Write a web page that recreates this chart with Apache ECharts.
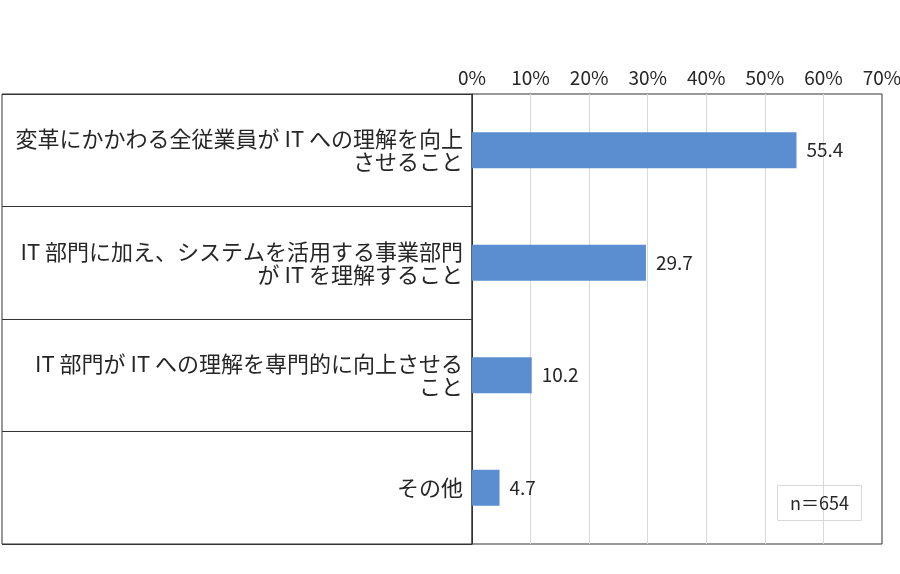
<!DOCTYPE html>
<html><head><meta charset="utf-8">
<script src="https://cdn.jsdelivr.net/npm/echarts@6/dist/echarts.min.js"></script>
<style>html,body{margin:0;padding:0;background:#fff}#c{width:900px;height:574px}</style>
</head><body><div id="c"></div>
<script>
const categories = [
  '変革にかかわる全従業員が IT への理解を向上\nさせること',
  'IT 部門に加え、システムを活用する事業部門\nが IT を理解すること',
  'IT 部門が IT への理解を専門的に向上させる\nこと',
  'その他'
];
const values = [55.4, 29.7, 10.2, 4.7];
const tickMin = 0, tickMax = 70, tickStep = 10;
const noteText = 'n＝654';

const FONT = '"Noto Sans CJK JP", "Noto Sans", sans-serif';
const chart = echarts.init(document.getElementById('c'));
chart.setOption({
  backgroundColor: '#fff',
  textStyle: { fontFamily: FONT },
  animation: false,
  title: {
    text: noteText, right: 38, bottom: 53,
    borderColor: '#d9d9d9', borderWidth: 1, padding: [9, 13, 9, 13],
    textStyle: { fontSize: 18, fontWeight: 'normal', color: '#262626', fontFamily: FONT }
  },
  grid: [
    { left: 472, right: 18, top: 94, bottom: 30, show: true, borderColor: '#333', borderWidth: 1, containLabel: false, outerBoundsMode: 'none' },
    { left: 2, width: 470, top: 94, bottom: 30, show: true, borderColor: '#333', borderWidth: 1, containLabel: false, outerBoundsMode: 'none' }
  ],
  xAxis: [
    {
      gridIndex: 0, type: 'value', position: 'top', min: tickMin, max: tickMax, interval: tickStep,
      axisLine: { show: false }, axisTick: { show: false },
      axisLabel: { formatter: '{value}%', fontSize: 19, color: '#262626', margin: 7, fontFamily: FONT },
      splitLine: { show: true, showMinLine: false, showMaxLine: false, lineStyle: { color: '#d9d9d9', width: 1 } }
    },
    { gridIndex: 1, type: 'value', show: false, min: 0, max: 1 }
  ],
  yAxis: [
    {
      gridIndex: 0, type: 'category', data: categories, inverse: true,
      axisLine: { show: true, lineStyle: { color: '#333', width: 1 } },
      axisTick: { show: false },
      axisLabel: { fontSize: 22, color: '#262626', align: 'right', margin: 9, lineHeight: 23, fontFamily: FONT }
    },
    {
      gridIndex: 1, type: 'category', data: categories, inverse: true,
      axisLine: { show: false }, axisTick: { show: false }, axisLabel: { show: false },
      splitLine: { show: true, lineStyle: { color: '#333', width: 1 } }
    }
  ],
  series: [{
    type: 'bar', xAxisIndex: 0, yAxisIndex: 0, data: values, barWidth: '32%',
    itemStyle: { color: '#5A8ED0' },
    label: { show: true, position: 'right', distance: 10, fontSize: 19, color: '#262626', fontFamily: FONT }
  }]
});
</script></body></html>
